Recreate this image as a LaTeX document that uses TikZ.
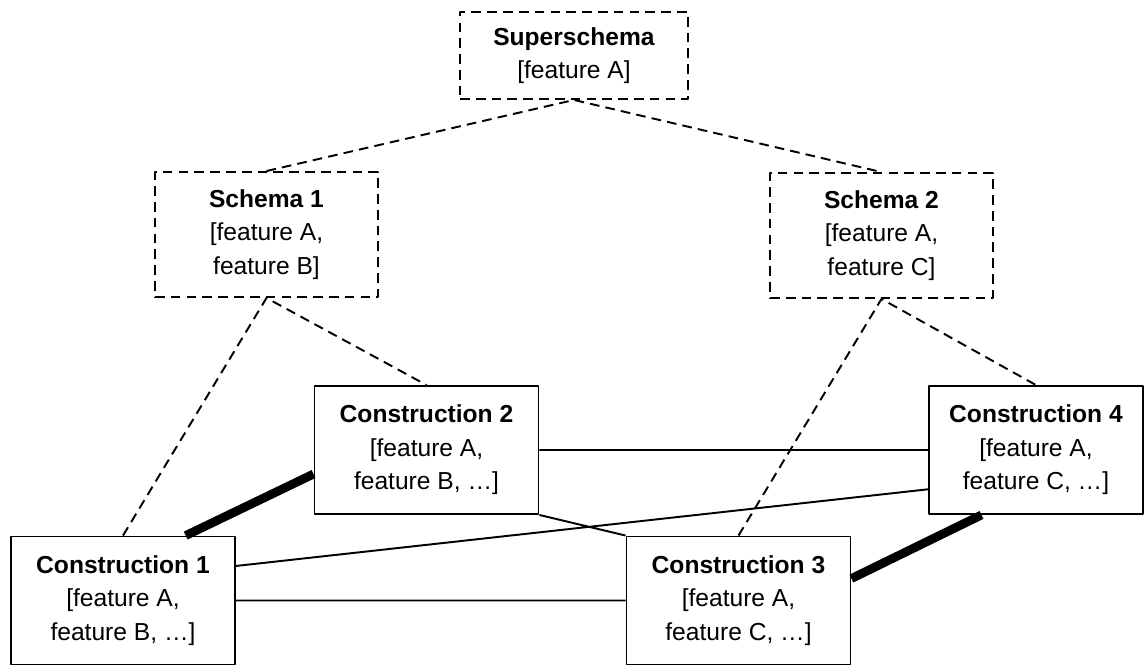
\documentclass[tikz,border=0pt]{standalone}
\usepackage{fontspec}
\setmainfont{Liberation Sans}
\begin{document}
\begin{tikzpicture}[x=0.02cm, y=-0.02cm, font=\fontsize{14}{19}\selectfont, line join=round,
		schemabox/.style={draw, line width=1.1pt, dash pattern=on 5.5pt off 3.5pt, align=center, inner sep=0pt},
		cxbox/.style={draw, line width=1.1pt, align=center, inner sep=0pt, minimum width=4.48cm, minimum height=2.56cm},
		dashlink/.style={line width=1.1pt, dash pattern=on 5.5pt off 3.5pt},
		thinlink/.style={line width=1.1pt},
		thicklink/.style={line width=5pt}]
	\useasboundingbox (0,0) rectangle (1144,666);
	% schemas
	\node[schemabox, minimum width=4.56cm, minimum height=1.74cm] (super) at (574,55.5) {\textbf{Superschema}\\{[}feature A]};
	\node[schemabox, minimum width=4.46cm, minimum height=2.5cm] (s1) at (266.5,234.5) {\textbf{Schema 1}\\{[}feature A,\\feature B]};
	\node[schemabox, minimum width=4.46cm, minimum height=2.5cm] (s2) at (881.5,235.5) {\textbf{Schema 2}\\{[}feature A,\\feature C]};
	% constructions
	\node[cxbox] (c1) at (123,600.5) {\textbf{Construction 1}\\{[}feature A,\\feature B, …]};
	\node[cxbox] (c2) at (426.5,450) {\textbf{Construction 2}\\{[}feature A,\\feature B, …]};
	\node[cxbox] (c3) at (738.5,600.5) {\textbf{Construction 3}\\{[}feature A,\\feature C, …]};
	\node[cxbox, minimum width=4.28cm] (c4) at (1036,450) {\textbf{Construction 4}\\{[}feature A,\\feature C, …]};
	\draw[dashlink] (s1.north)--(super.south)--(s2.north);
	\draw[dashlink] (c1.north)--(s1.south)--(c2.north);
	\draw[dashlink] (c3.north)--(s2.south)--(c4.north);
	\draw[thinlink] (c2.east)--(c4.west) (c2.south east)--(c3.north west)
		(c1.17)--(c4.200) (c1.east)--(c3.west);
	\draw[thicklink] (c1.46)--(c2.192) (c3.11)--(c4.230);
\end{tikzpicture}
\end{document}
